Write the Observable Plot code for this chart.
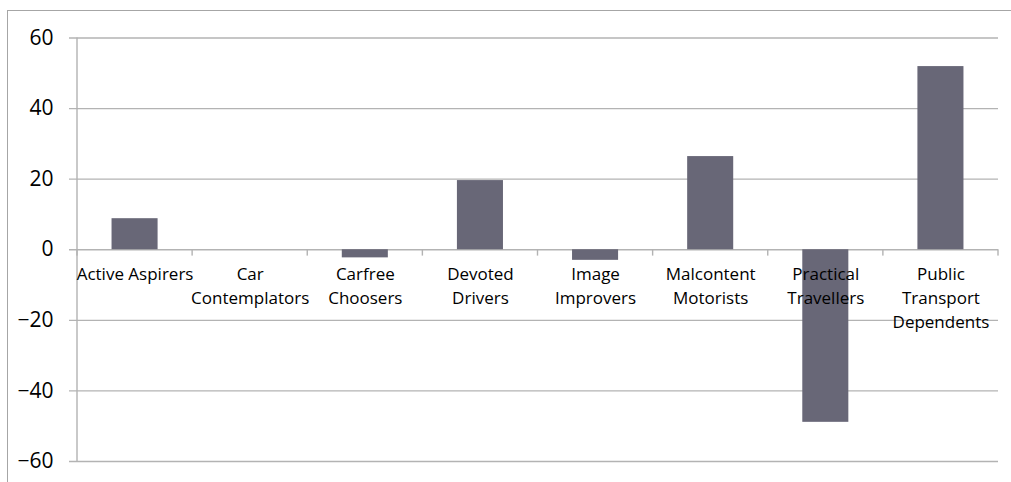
<!DOCTYPE html>
<html>
<head>
<meta charset="utf-8">
<script src="https://cdn.jsdelivr.net/npm/d3@7"></script>
<script src="https://cdn.jsdelivr.net/npm/@observablehq/plot@0.6"></script>
<style>
  html, body { margin: 0; padding: 0; background: #fff; }
  #wrap { position: relative; width: 1011px; height: 482px; overflow: hidden; }
  #border { position: absolute; left: 7px; top: 10px; right: -5px; bottom: -5px;
            border-left: 1.5px solid #a6a6a6; border-top: 1.5px solid #a6a6a6; }
  #chart { position: absolute; left: 0; top: 0; width: 1011px; }
</style>
</head>
<body>
<div id="wrap"><div id="border"></div><div id="chart"></div></div>
<script>
// Segment names and their scores
const segments = ["Active Aspirers", "Car Contemplators", "Carfree Choosers", "Devoted Drivers",
  "Image Improvers", "Malcontent Motorists", "Practical Travellers", "Public Transport Dependents"];
const segmentLabels = ["Active Aspirers", "Car\nContemplators", "Carfree\nChoosers", "Devoted\nDrivers",
  "Image\nImprovers", "Malcontent\nMotorists", "Practical\nTravellers", "Public\nTransport\nDependents"];
const scores = [8.8, 0, -2.3, 19.6, -3.0, 26.4, -48.9, 51.9];
const yTicks = [-60, -40, -20, 0, 20, 40, 60];

const rows = segments.map((s, i) => ({segment: s, label: segmentLabels[i], score: scores[i]}));

const W = 1011, H = 482;
const mL = 77, mR = 13, mT = 37.5, mB = 21;
const step = (W - mL - mR) / segments.length;
const bandwidth = step * 0.4;
const lineInset = bandwidth / 2 - 0.7; // shrink a band-wide rect to a thin vertical line
const grid = "#b3b3b3";
const font = "'Open Sans', sans-serif";

const chart = Plot.plot({
  width: W,
  height: H,
  marginLeft: mL,
  marginRight: mR,
  marginTop: mT,
  marginBottom: mB,
  style: {fontFamily: font, background: "transparent", overflow: "visible"},
  x: {domain: segments, paddingInner: 0.6, paddingOuter: 0.3, round: false, axis: null},
  y: {domain: [-60, 60], axis: null},
  marks: [
    // horizontal gridlines, stretched left to form the tick marks
    Plot.ruleY(yTicks, {stroke: grid, strokeWidth: 1.3, insetLeft: -8}),
    Plot.barY(rows, {x: "segment", y: "score", fill: "#686777"}),
    // vertical axis line along the left edge of the plot area
    Plot.barY([segments[0]], {x: d => d, y1: () => -60, y2: () => 60, dx: -step / 2,
      insetLeft: lineInset, insetRight: lineInset, fill: grid}),
    // category divider ticks hanging below the zero line
    Plot.barY(segments, {x: d => d, y1: () => 0, y2: () => -1.8, dx: -step / 2,
      insetLeft: lineInset, insetRight: lineInset, fill: grid}),
    Plot.barY([segments[segments.length - 1]], {x: d => d, y1: () => 0, y2: () => -1.8, dx: step / 2,
      insetLeft: lineInset, insetRight: lineInset, fill: grid}),
    Plot.axisY(yTicks, {label: null, tickSize: 0, tickPadding: 24, fontSize: 21, fill: "#000",
      tickFormat: d => d < 0 ? "\u2212" + Math.abs(d) : String(d)}),
    // category labels under the zero line
    Plot.text(rows, {x: "segment", y: 0, text: "label", lineAnchor: "top", dy: 13, lineHeight: 1.42,
      fontSize: 17, fill: "#000"})
  ]
});
document.getElementById("chart").appendChild(chart);
</script>
</body>
</html>
